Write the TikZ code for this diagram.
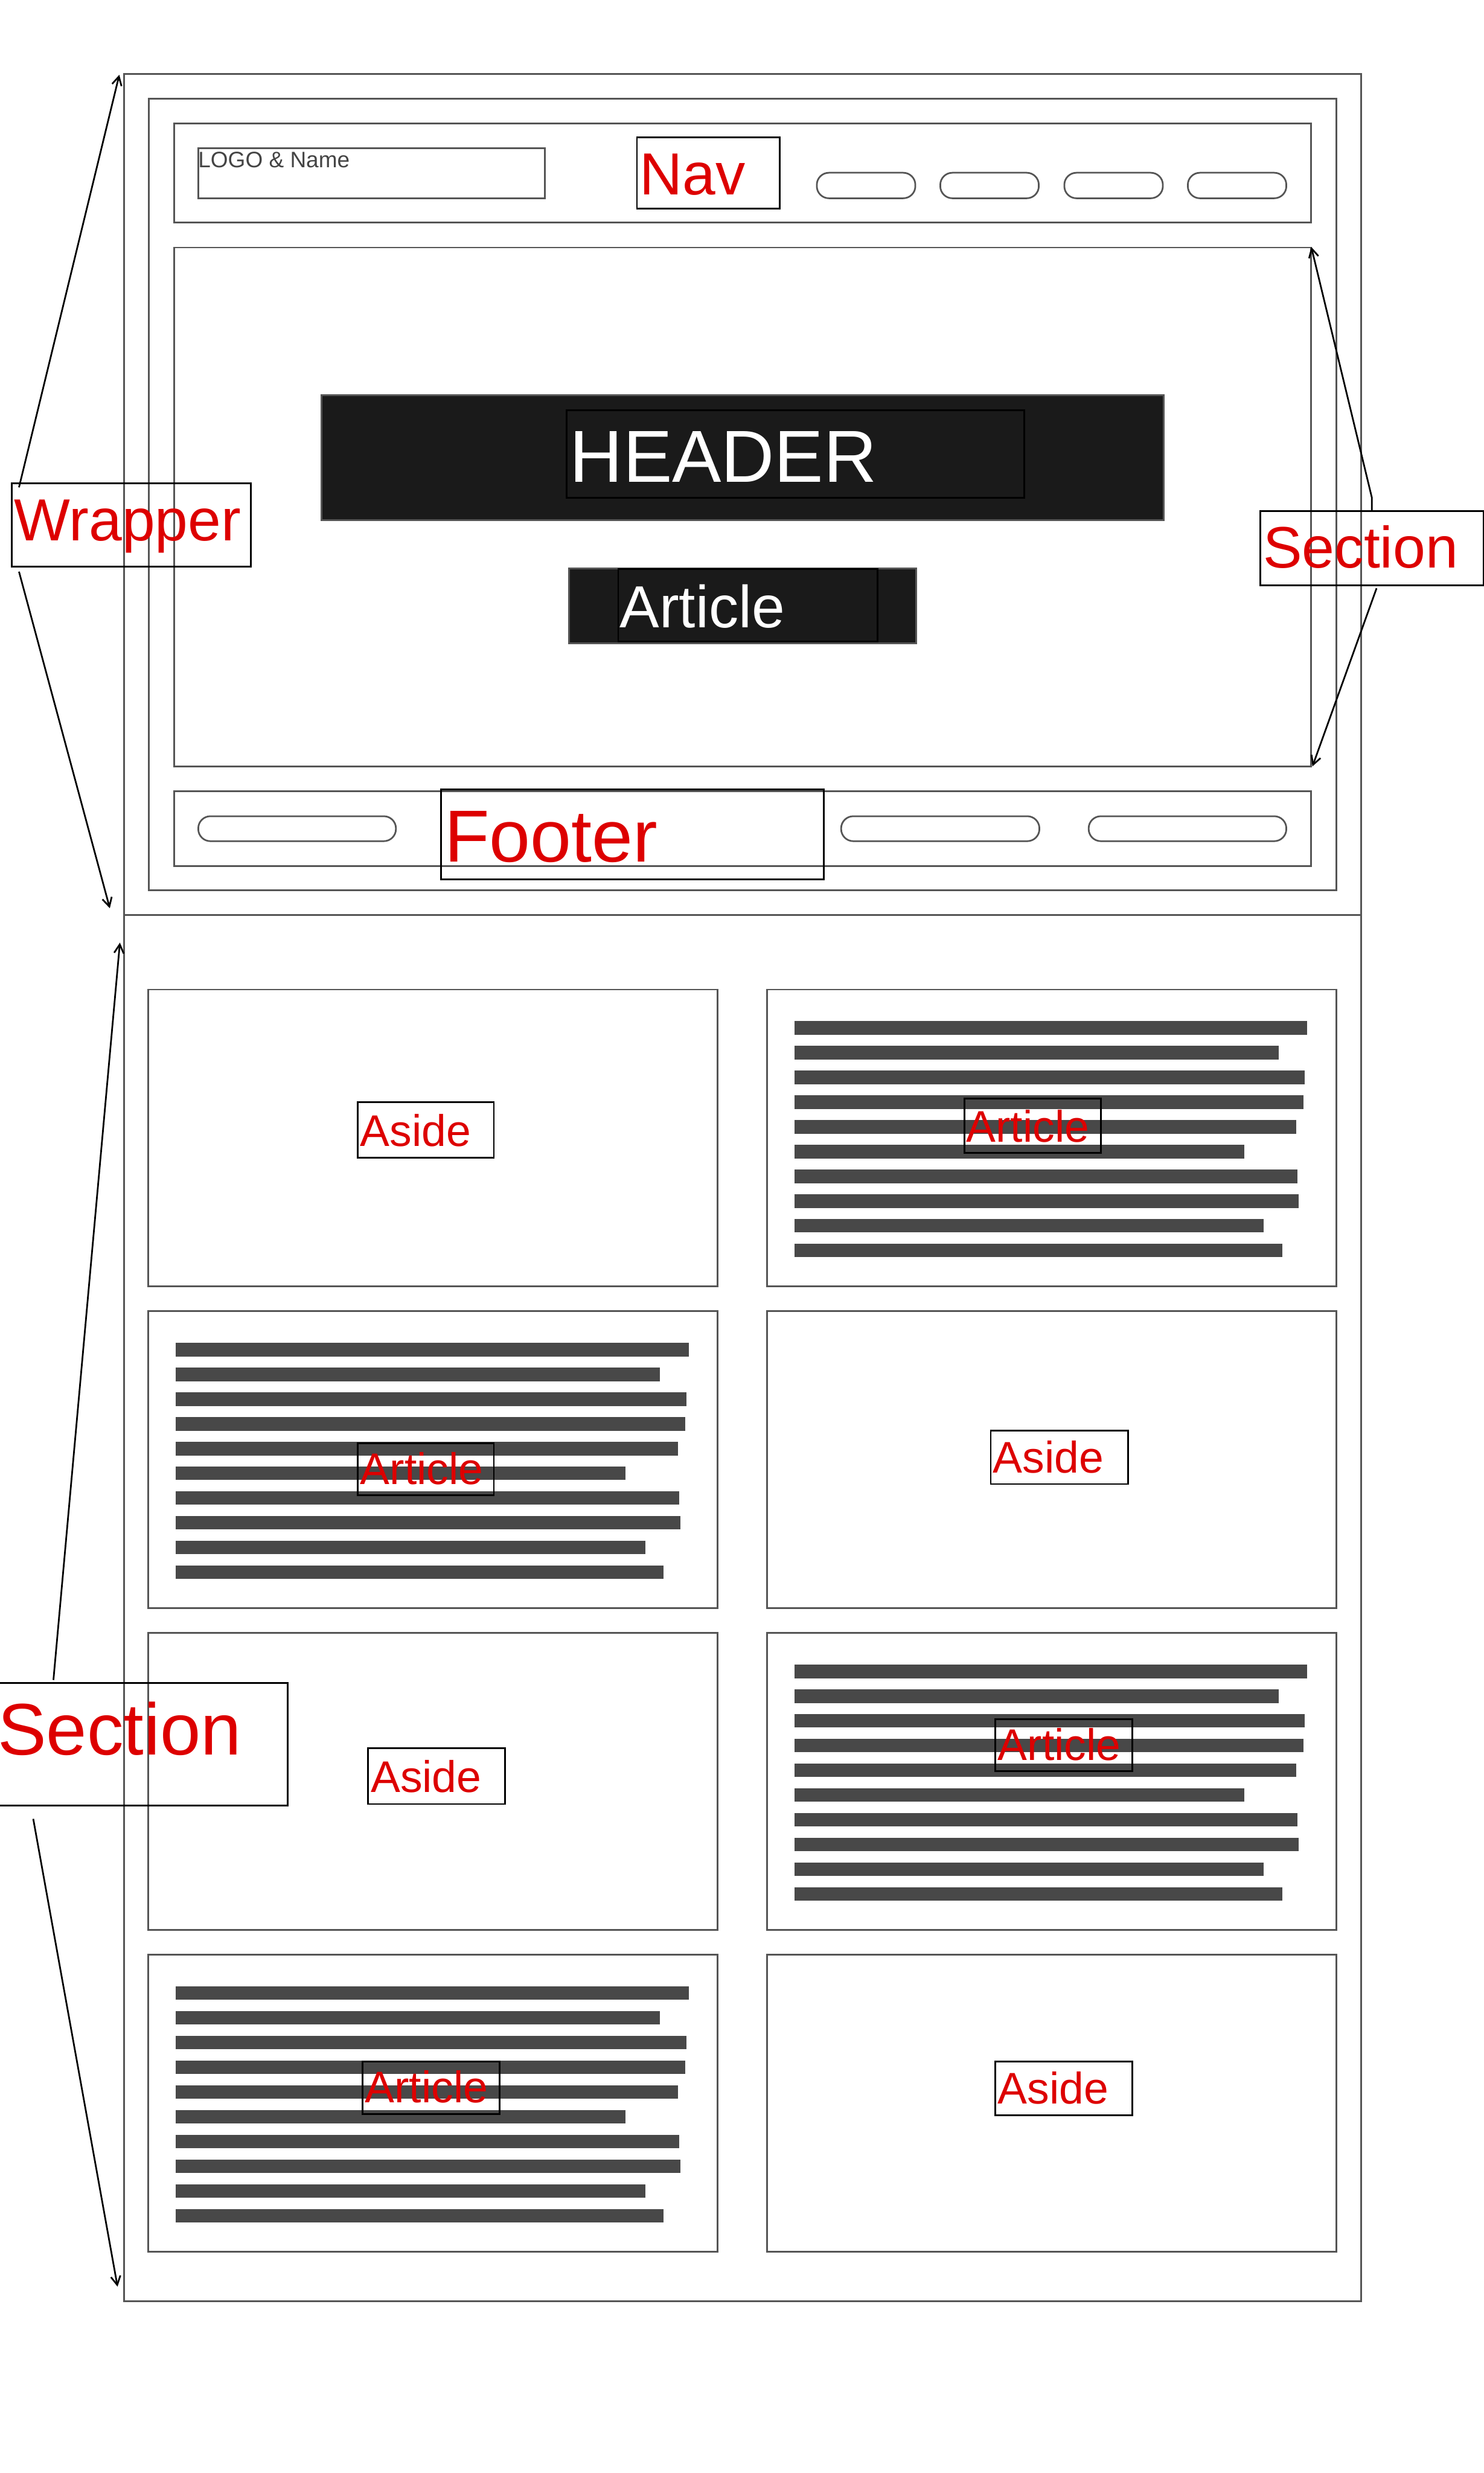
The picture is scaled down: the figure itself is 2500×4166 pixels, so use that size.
\documentclass[tikz,border=0pt]{standalone}
\usepackage{fontspec}
\setmainfont{Liberation Sans}
\usetikzlibrary{fit,arrows.meta}
\definecolor{framegray}{HTML}{555555}
\definecolor{labelred}{HTML}{DD0000}
\definecolor{bargray}{HTML}{484848}
\definecolor{darkfill}{HTML}{1A1A1A}
\definecolor{logogray}{HTML}{444444}
\begin{document}
\begin{tikzpicture}[x=0.01cm,y=-0.01cm,
  frame/.style={draw=framegray,line width=0.85pt,inner sep=0pt,outer sep=0pt},
  pill/.style={draw=framegray,line width=0.8pt,rounded corners=5.8pt,inner sep=0pt,outer sep=0pt},
  lblbox/.style={draw=black,line width=0.85pt,inner sep=0pt,outer sep=0pt},
  txt/.style={anchor=base west,inner sep=0pt,outer sep=0pt},
  redtxt/.style={txt,text=labelred},
  bigfont/.style={font=\fontsize{35.3pt}{40pt}\selectfont},
  midfont/.style={font=\fontsize{28.45pt}{34pt}\selectfont},
  smallfont/.style={font=\fontsize{21.2pt}{25pt}\selectfont},
  arr/.style={draw=black,line width=0.8pt,-{Straight Barb[length=4.2pt,width=4.6pt]}},
]
\useasboundingbox (0,0) rectangle (2500,4166);

% ---------- top wrapper ----------
\node[frame,fit={(209,125) (2293,1541)}] (wrapTop) {};
\node[frame,fit={(251,166) (2251,1500)}] (wrapInner) {};
% nav
\node[frame,fit={(293,208) (2209,375)}] (nav) {};
\node[frame,fit={(334,250) (918,334)}] (logo) {};
\node[txt,text=logogray,font=\fontsize{10.7pt}{12pt}\selectfont] (logotxt) at (334,282) {LOGO \& Name};
\foreach \px [count=\k] in {1376,1584,1793,2001}{
  \node[pill,fit={(\px,291) ({\px+166},334)}] (navpill\k) {};
}
% header section
\node[frame,fit={(293,417) (2209,1291)}] (hsec) {};
\node[frame,fill=darkfill,fit={(542,666) (1960,876)}] (hdr) {};
\node[lblbox,fit={(955,691) (1725,839)}] (hdrbox) {};
\node[txt,text=white,bigfont] (hdrtxt) at (960,812) {HEADER};
\node[frame,fill=darkfill,fit={(958.5,958) (1543,1084)}] (hart) {};
\node[lblbox,fit={(1041.5,959) (1478,1081)}] (hartbox) {};
\node[txt,text=white,midfont] (harttxt) at (1044,1057) {Article};
% footer
\node[frame,fit={(293,1333) (2209,1459)}] (foot) {};
\node[pill,fit={(334,1375) (667,1417)}] (fpill1) {};
\node[pill,fit={(1417,1375) (1751,1417)}] (fpill2) {};
\node[pill,fit={(1834,1375) (2167,1417)}] (fpill3) {};
\node[lblbox,fit={(743,1330) (1388,1481)}] (footbox) {};
\node[redtxt,bigfont] (foottxt) at (749,1452) {Footer};
\node[lblbox,fit={(1073,231) (1314,351.5)}] (navbox) {};
\node[redtxt,midfont] (navtxt) at (1078,328) {Nav};

% ---------- lower section ----------
\node[frame,fit={(209,1541) (2293,3877)}] (sec) {};
\foreach \cy [count=\r] in {1667,2209,2751,3293}{
  \node[frame,fit={(250,\cy) (1209,{\cy+500})}] (cardL\r) {};
  \node[frame,fit={(1292,\cy) (2251,{\cy+500})}] (cardR\r) {};
}
\foreach \cx/\cy in {1292/1667,250/2209,1292/2751,250/3293}{
  \foreach \len [count=\i from 0] in {864,816,860,858,846,758,848,850,791,822}{
    \fill[bargray] ({\cx+46},{\cy+53+\i*41.67}) rectangle ++(\len,23);
  }
}
% card labels
\node[lblbox,fit={(603,1857) (832,1950)}] (asideA) {};
\node[redtxt,smallfont] at (607,1931) {Aside};
\node[lblbox,fit={(1625,1851) (1855,1942)}] (artA) {};
\node[redtxt,smallfont] at (1628,1924) {Article};
\node[lblbox,fit={(603,2431) (832,2519)}] (artB) {};
\node[redtxt,smallfont] at (607,2500) {Article};
\node[lblbox,fit={(1669,2410) (1900,2500)}] (asideB) {};
\node[redtxt,smallfont] at (1673,2481) {Aside};
\node[lblbox,fit={(620,2945) (851,3039)}] (asideC) {};
\node[redtxt,smallfont] at (624.6,3019) {Aside};
\node[lblbox,fit={(1677,2896) (1908,2984)}] (artC) {};
\node[redtxt,smallfont] at (1681,2965) {Article};
\node[lblbox,fit={(611,3473) (842,3561)}] (artD) {};
\node[redtxt,smallfont] at (615,3542) {Article};
\node[lblbox,fit={(1677,3473) (1908,3563)}] (asideD) {};
\node[redtxt,smallfont] at (1681,3544) {Aside};

% ---------- side labels ----------
\node[lblbox,fit={(20,814) (423,955)}] (wrapbox) {};
\node[redtxt,midfont] (wraptxt) at (24,911) {Wrapper};
\node[lblbox,fit={(2123,861) (2499,986)}] (secRbox) {};
\node[redtxt,font=\fontsize{28pt}{34pt}\selectfont] (secRtxt) at (2128,957) {Section};
\node[lblbox,fit={(-10,2835) (484.5,3042)}] (secLbox) {};
\node[redtxt,font=\fontsize{35pt}{40pt}\selectfont] (secLtxt) at (-4,2956) {Section};

% ---------- arrows ----------
\coordinate (w1s) at (32,821);
\coordinate (w1e) at (201,126);
\coordinate (w2s) at (32,963);
\coordinate (w2e) at (185,1530);
\draw[arr] (w1s) -- (w1e);
\draw[arr] (w2s) -- (w2e);
\coordinate (s1s) at (2311,861);
\coordinate (s1m) at (2311,838);
\coordinate (s1e) at (2209,416);
\coordinate (s2s) at (2319,991);
\coordinate (s2e) at (2211,1291);
\draw[arr] (s1s) -- (s1m) -- (s1e);
\draw[arr] (s2s) -- (s2e);
\coordinate (l1s) at (90,2830);
\coordinate (l1e) at (202,1588);
\coordinate (l2s) at (56,3064);
\coordinate (l2e) at (198,3852);
\draw[arr] (l1s) -- (l1e);
\draw[arr] (l2s) -- (l2e);
\end{tikzpicture}
\end{document}
